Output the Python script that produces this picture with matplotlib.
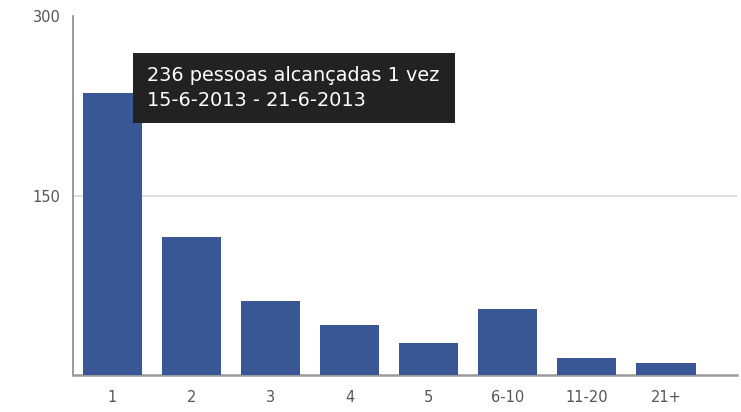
import matplotlib
matplotlib.use("Agg")
import matplotlib.pyplot as plt
from matplotlib.patches import Rectangle

# Reach frequency: number of people reached N times in the week
categories = ["1", "2", "3", "4", "5", "6-10", "11-20", "21+"]
people = [236, 115, 62, 42, 27, 55, 14, 10]
y_ticks = [150, 300]
period = "15-6-2013 - 21-6-2013"

bar_color = "#3a5795"
label_color = "#555555"

fig = plt.figure(figsize=(7.41, 4.12), dpi=100)
fig.patch.set_facecolor("white")
ax = fig.add_axes([73 / 741, 37 / 412, (737 - 73) / 741, (375 - 16) / 412])

x = list(range(len(categories)))
ax.bar(x, people, width=0.75, color=bar_color, zorder=3)

ax.set_xlim(-0.5, 7.9)
ax.set_ylim(0, 300)
ax.set_xticks(x)
ax.set_xticklabels(categories, fontsize=10.5, color=label_color)
ax.set_yticks(y_ticks)
ax.set_yticklabels([str(v) for v in y_ticks], fontsize=10.5, color=label_color)
ax.tick_params(axis="both", length=0)
ax.tick_params(axis="x", pad=11)
ax.tick_params(axis="y", pad=9)

# light guide line at the middle tick only
ax.axhline(150, color="#d9d9d9", linewidth=1.2, zorder=1)

for side in ("top", "right"):
    ax.spines[side].set_visible(False)
ax.spines["left"].set_color("#8a8a8a")
ax.spines["left"].set_linewidth(1.2)
ax.spines["bottom"].set_color("#9a9a9a")
ax.spines["bottom"].set_linewidth(1.8)

# hover tooltip for the first bar
tip = Rectangle((133 / 741, 1 - 123 / 412), (455 - 133) / 741, (123 - 53) / 412,
                transform=fig.transFigure, facecolor="#222222", edgecolor="none",
                zorder=10)
fig.patches.append(tip)
tip_text = f"{people[0]} pessoas alcançadas {categories[0]} vez\n{period}"
fig.text(147 / 741, 1 - 88 / 412, tip_text, color="white", fontsize=13.9,
         va="center", ha="left", linespacing=1.45, zorder=11)

fig.savefig("out.png", dpi=100, facecolor="white")
